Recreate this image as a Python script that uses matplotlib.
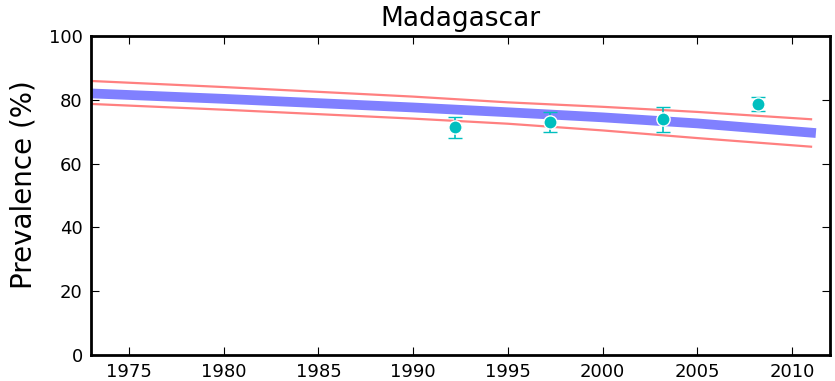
import matplotlib
matplotlib.use("Agg")
import matplotlib.pyplot as plt
import numpy as np

title = "Madagascar"
line_years = [1973, 1980, 1990, 1995, 2000, 2005, 2011]
median = [82.0, 80.3, 77.6, 76.1, 74.5, 72.6, 69.7]
upper = [85.9, 84.0, 81.0, 79.2, 77.8, 76.2, 73.9]
lower = [78.7, 76.9, 74.1, 72.5, 70.4, 68.0, 65.3]

obs_years = [1992.2, 1997.2, 2003.2, 2008.2]
obs_vals = [71.4, 73.1, 73.9, 78.7]
obs_lo = [67.9, 69.8, 69.9, 76.5]
obs_hi = [74.7, 76.1, 77.8, 80.9]

fig = plt.figure(figsize=(8.35, 3.81), dpi=100)
ax = fig.add_axes([91/835, 1-355/381, (830-91)/835, (355-36)/381])
ax.plot(line_years, upper, color="#ff8080", lw=1.6)
ax.plot(line_years, lower, color="#ff8080", lw=1.6)
ax.plot(line_years, median, color="#8080ff", lw=7)
yerr = [np.array(obs_vals) - np.array(obs_lo), np.array(obs_hi) - np.array(obs_vals)]
ax.errorbar(obs_years, obs_vals, yerr=yerr, fmt="o", color="#00bfbf", ecolor="#00bfbf",
            ms=9.5, mec="white", mew=1, capsize=5, elinewidth=1.2, capthick=1.2, zorder=5)
ax.set_xlim(1973, 2012)
ax.set_ylim(0, 100)
ax.set_xticks([1975, 1980, 1985, 1990, 1995, 2000, 2005, 2010])
ax.set_yticks([0, 20, 40, 60, 80, 100])
ax.tick_params(direction="in", top=True, right=True, labelsize=13, length=6, pad=6)
for s in ax.spines.values():
    s.set_linewidth(2)
ax.set_ylabel("Prevalence (%)", fontsize=20)
ax.yaxis.set_label_coords(-0.072, 0.533)
ax.set_title(title, fontsize=19, pad=7)
fig.savefig("out.png", dpi=100)
